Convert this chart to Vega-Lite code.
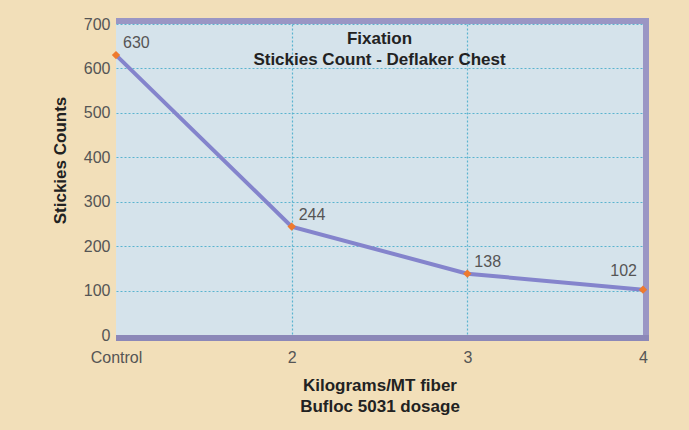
{
  "$schema": "https://vega.github.io/schema/vega-lite/v6.json",
  "width": 527,
  "height": 311,
  "autosize": {"type": "none"},
  "padding": {"left": 116, "top": 24, "right": 46, "bottom": 95},
  "background": "#f2dfb9",
  "config": {
    "view": {"fill": "#d5e3eb", "stroke": null},
    "font": "Liberation Sans"
  },
  "title": {
    "text": ["Fixation", "Stickies Count - Deflaker Chest"],
    "fontSize": 17,
    "fontWeight": "bold",
    "color": "#222222",
    "anchor": "middle",
    "frame": "group",
    "baseline": "top",
    "offset": -54,
    "lineHeight": 21
  },
  "data": {
    "values": [
      {"dosage": "Control", "count": 630},
      {"dosage": "2", "count": 244},
      {"dosage": "3", "count": 138},
      {"dosage": "4", "count": 102}
    ]
  },
  "encoding": {
    "x": {
      "field": "dosage",
      "type": "ordinal",
      "sort": null,
      "scale": {"type": "point", "padding": 0, "domain": ["Control", "2", "3", "4"]},
      "axis": {
        "title": ["Kilograms/MT fiber", "Bufloc 5031 dosage"],
        "titleFontSize": 17,
        "titleFontWeight": "bold",
        "titleColor": "#222222",
        "titleLineHeight": 21,
        "titlePadding": 12,
        "labelAngle": 0,
        "labelFontSize": 16,
        "labelColor": "#555555",
        "labelPadding": 11,
        "ticks": false,
        "domain": false,
        "offset": 3,
        "grid": true,
        "gridColor": {
          "condition": {"test": "datum.value === '2' || datum.value === '3'", "value": "#5ab4cf"},
          "value": "transparent"
        },
        "gridDash": [2, 2],
        "gridWidth": 1.2
      }
    },
    "y": {
      "field": "count",
      "type": "quantitative",
      "scale": {"domain": [0, 700]},
      "axis": {
        "title": "Stickies Counts",
        "titleFontSize": 17,
        "titleFontWeight": "bold",
        "titleColor": "#222222",
        "titlePadding": 14,
        "titleY": 136,
        "domain": false,
        "ticks": false,
        "values": [0, 100, 200, 300, 400, 500, 600, 700],
        "labelFontSize": 16,
        "labelColor": "#555555",
        "labelPadding": 6,
        "gridColor": "#5ab4cf",
        "gridDash": [2, 2],
        "gridWidth": 1.2
      }
    }
  },
  "layer": [
    {
      "mark": {"type": "rule", "color": "#9a96c4", "strokeWidth": 6, "yOffset": -3, "x2Offset": 6},
      "encoding": {
        "x": {"datum": "Control", "type": "ordinal"},
        "x2": {"datum": "4"},
        "y": {"datum": 700, "type": "quantitative"}
      }
    },
    {
      "mark": {"type": "rule", "color": "#9a96c4", "strokeWidth": 6, "xOffset": 3, "yOffset": 6, "y2Offset": -6},
      "encoding": {
        "x": {"datum": "4", "type": "ordinal"},
        "y": {"datum": 0, "type": "quantitative"},
        "y2": {"datum": 700}
      }
    },
    {
      "mark": {"type": "rule", "color": "#8c88b8", "strokeWidth": 6, "yOffset": 3, "x2Offset": 6},
      "encoding": {
        "x": {"datum": "Control", "type": "ordinal"},
        "x2": {"datum": "4"},
        "y": {"datum": 0, "type": "quantitative"}
      }
    },
    {
      "mark": {"type": "line", "color": "#8484cc", "strokeWidth": 4}
    },
    {
      "mark": {"type": "point", "shape": "diamond", "filled": true, "color": "#ee7a2e", "size": 70, "opacity": 1}
    },
    {
      "transform": [{"filter": "datum.dosage !== '4'"}],
      "mark": {"type": "text", "align": "left", "baseline": "middle", "dx": 7, "dy": -12, "fontSize": 16, "color": "#555555"},
      "encoding": {"text": {"field": "count", "type": "quantitative"}}
    },
    {
      "transform": [{"filter": "datum.dosage === '4'"}],
      "mark": {"type": "text", "align": "right", "baseline": "middle", "dx": -6, "dy": -19, "fontSize": 16, "color": "#555555"},
      "encoding": {"text": {"field": "count", "type": "quantitative"}}
    }
  ]
}
